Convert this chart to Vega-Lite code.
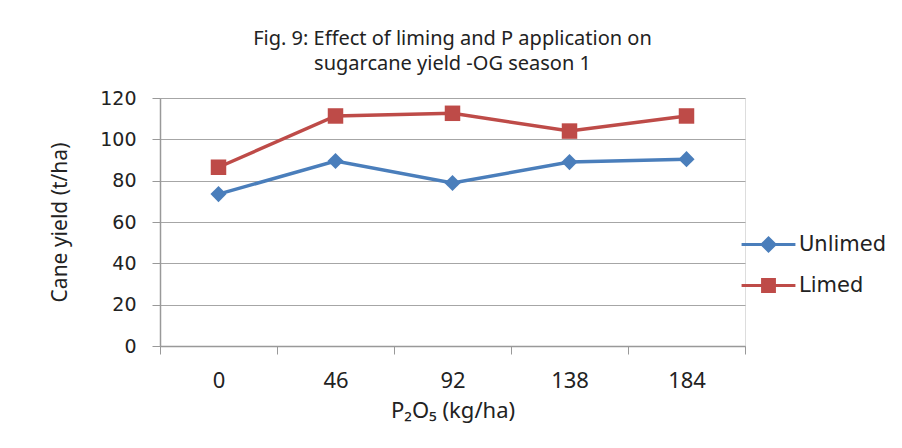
{
  "$schema": "https://vega.github.io/schema/vega-lite/v6.json",
  "width": 585,
  "height": 248,
  "autosize": {"type": "none"},
  "padding": {"left": 160, "top": 98, "right": 157, "bottom": 102},
  "background": "white",
  "title": {
    "text": ["Fig. 9: Effect of liming and P application on", "sugarcane yield -OG season 1"],
    "font": "Noto Sans",
    "fontSize": 20,
    "fontWeight": "normal",
    "color": "#222222",
    "anchor": "middle",
    "offset": 15,
    "lineHeight": 25
  },
  "data": {
    "values": [
      {"P": "0", "series": "Unlimed", "yield": 73.5},
      {"P": "46", "series": "Unlimed", "yield": 89.5},
      {"P": "92", "series": "Unlimed", "yield": 78.9},
      {"P": "138", "series": "Unlimed", "yield": 89.0},
      {"P": "184", "series": "Unlimed", "yield": 90.4},
      {"P": "0", "series": "Limed", "yield": 86.5},
      {"P": "46", "series": "Limed", "yield": 111.3},
      {"P": "92", "series": "Limed", "yield": 112.6},
      {"P": "138", "series": "Limed", "yield": 104.0},
      {"P": "184", "series": "Limed", "yield": 111.3}
    ]
  },
  "encoding": {
    "x": {
      "field": "P",
      "type": "ordinal",
      "sort": ["0", "46", "92", "138", "184"],
      "bandPosition": 0.5,
      "scale": {"type": "band", "paddingInner": 0, "paddingOuter": 0},
      "axis": {
        "title": "P₂O₅ (kg/ha)",
        "titleFont": "Noto Sans",
        "titleFontSize": 22,
        "titleFontWeight": "normal",
        "titleColor": "#222222",
        "titlePadding": 9,
        "labelAngle": 0,
        "labelFont": "Noto Sans",
        "labelFontSize": 22,
        "labelColor": "#222222",
        "labelPadding": 16,
        "tickBand": "extent",
        "tickSize": 8,
        "tickColor": "#999999",
        "domainColor": "#999999",
        "domainWidth": 1.5,
        "grid": false
      }
    },
    "y": {
      "field": "yield",
      "type": "quantitative",
      "scale": {"domain": [0, 120], "nice": false},
      "axis": {
        "title": "Cane yield (t/ha)",
        "values": [0, 20, 40, 60, 80, 100, 120],
        "titleFont": "Noto Sans",
        "titleFontSize": 21,
        "titleFontWeight": "normal",
        "titleColor": "#222222",
        "titlePadding": 29,
        "labelFont": "DejaVu Sans",
        "labelFontSize": 19,
        "labelColor": "#222222",
        "labelPadding": 16,
        "tickSize": 8,
        "tickColor": "#999999",
        "domainColor": "#999999",
        "domainWidth": 1.5,
        "gridColor": "#a6a6a6",
        "gridWidth": 1.2
      }
    },
    "color": {
      "field": "series",
      "type": "nominal",
      "scale": {"domain": ["Unlimed", "Limed"], "range": ["#4A7EBB", "#BE4B48"]}
    }
  },
  "layer": [
    {
      "mark": {"type": "line", "strokeWidth": 3.5},
      "encoding": {
        "color": {
          "field": "series",
          "type": "nominal",
          "scale": {"domain": ["Unlimed", "Limed"], "range": ["#4A7EBB", "#BE4B48"]},
          "legend": {
            "title": null,
            "orient": "none",
            "legendX": 580,
            "legendY": 118,
            "symbolType": "M-1,0L1,0",
            "symbolSize": 2900,
            "symbolStrokeWidth": 3,
            "labelFont": "DejaVu Sans",
            "labelFontSize": 21,
            "labelColor": "#222222",
            "labelOffset": 2,
            "rowPadding": -5,
            "encode": {
              "symbols": {
                "update": {
                  "shape": {"signal": "datum.value === 'Unlimed' ? 'M-1,0L1,0M0,-0.24L0.24,0L0,0.24L-0.24,0Z' : 'M-1,0L1,0M-0.22,-0.22L0.22,-0.22L0.22,0.22L-0.22,0.22Z'"},
                  "fill": {"signal": "datum.value === 'Unlimed' ? '#4A7EBB' : '#BE4B48'"}
                }
              }
            }
          }
        }
      }
    },
    {
      "transform": [{"filter": "datum.series === 'Unlimed'"}],
      "mark": {"type": "point", "filled": true, "opacity": 1, "size": 260, "shape": "diamond", "color": "#4A7EBB"}
    },
    {
      "transform": [{"filter": "datum.series === 'Limed'"}],
      "mark": {"type": "point", "filled": true, "opacity": 1, "size": 240, "shape": "square", "color": "#BE4B48"}
    }
  ]
}
